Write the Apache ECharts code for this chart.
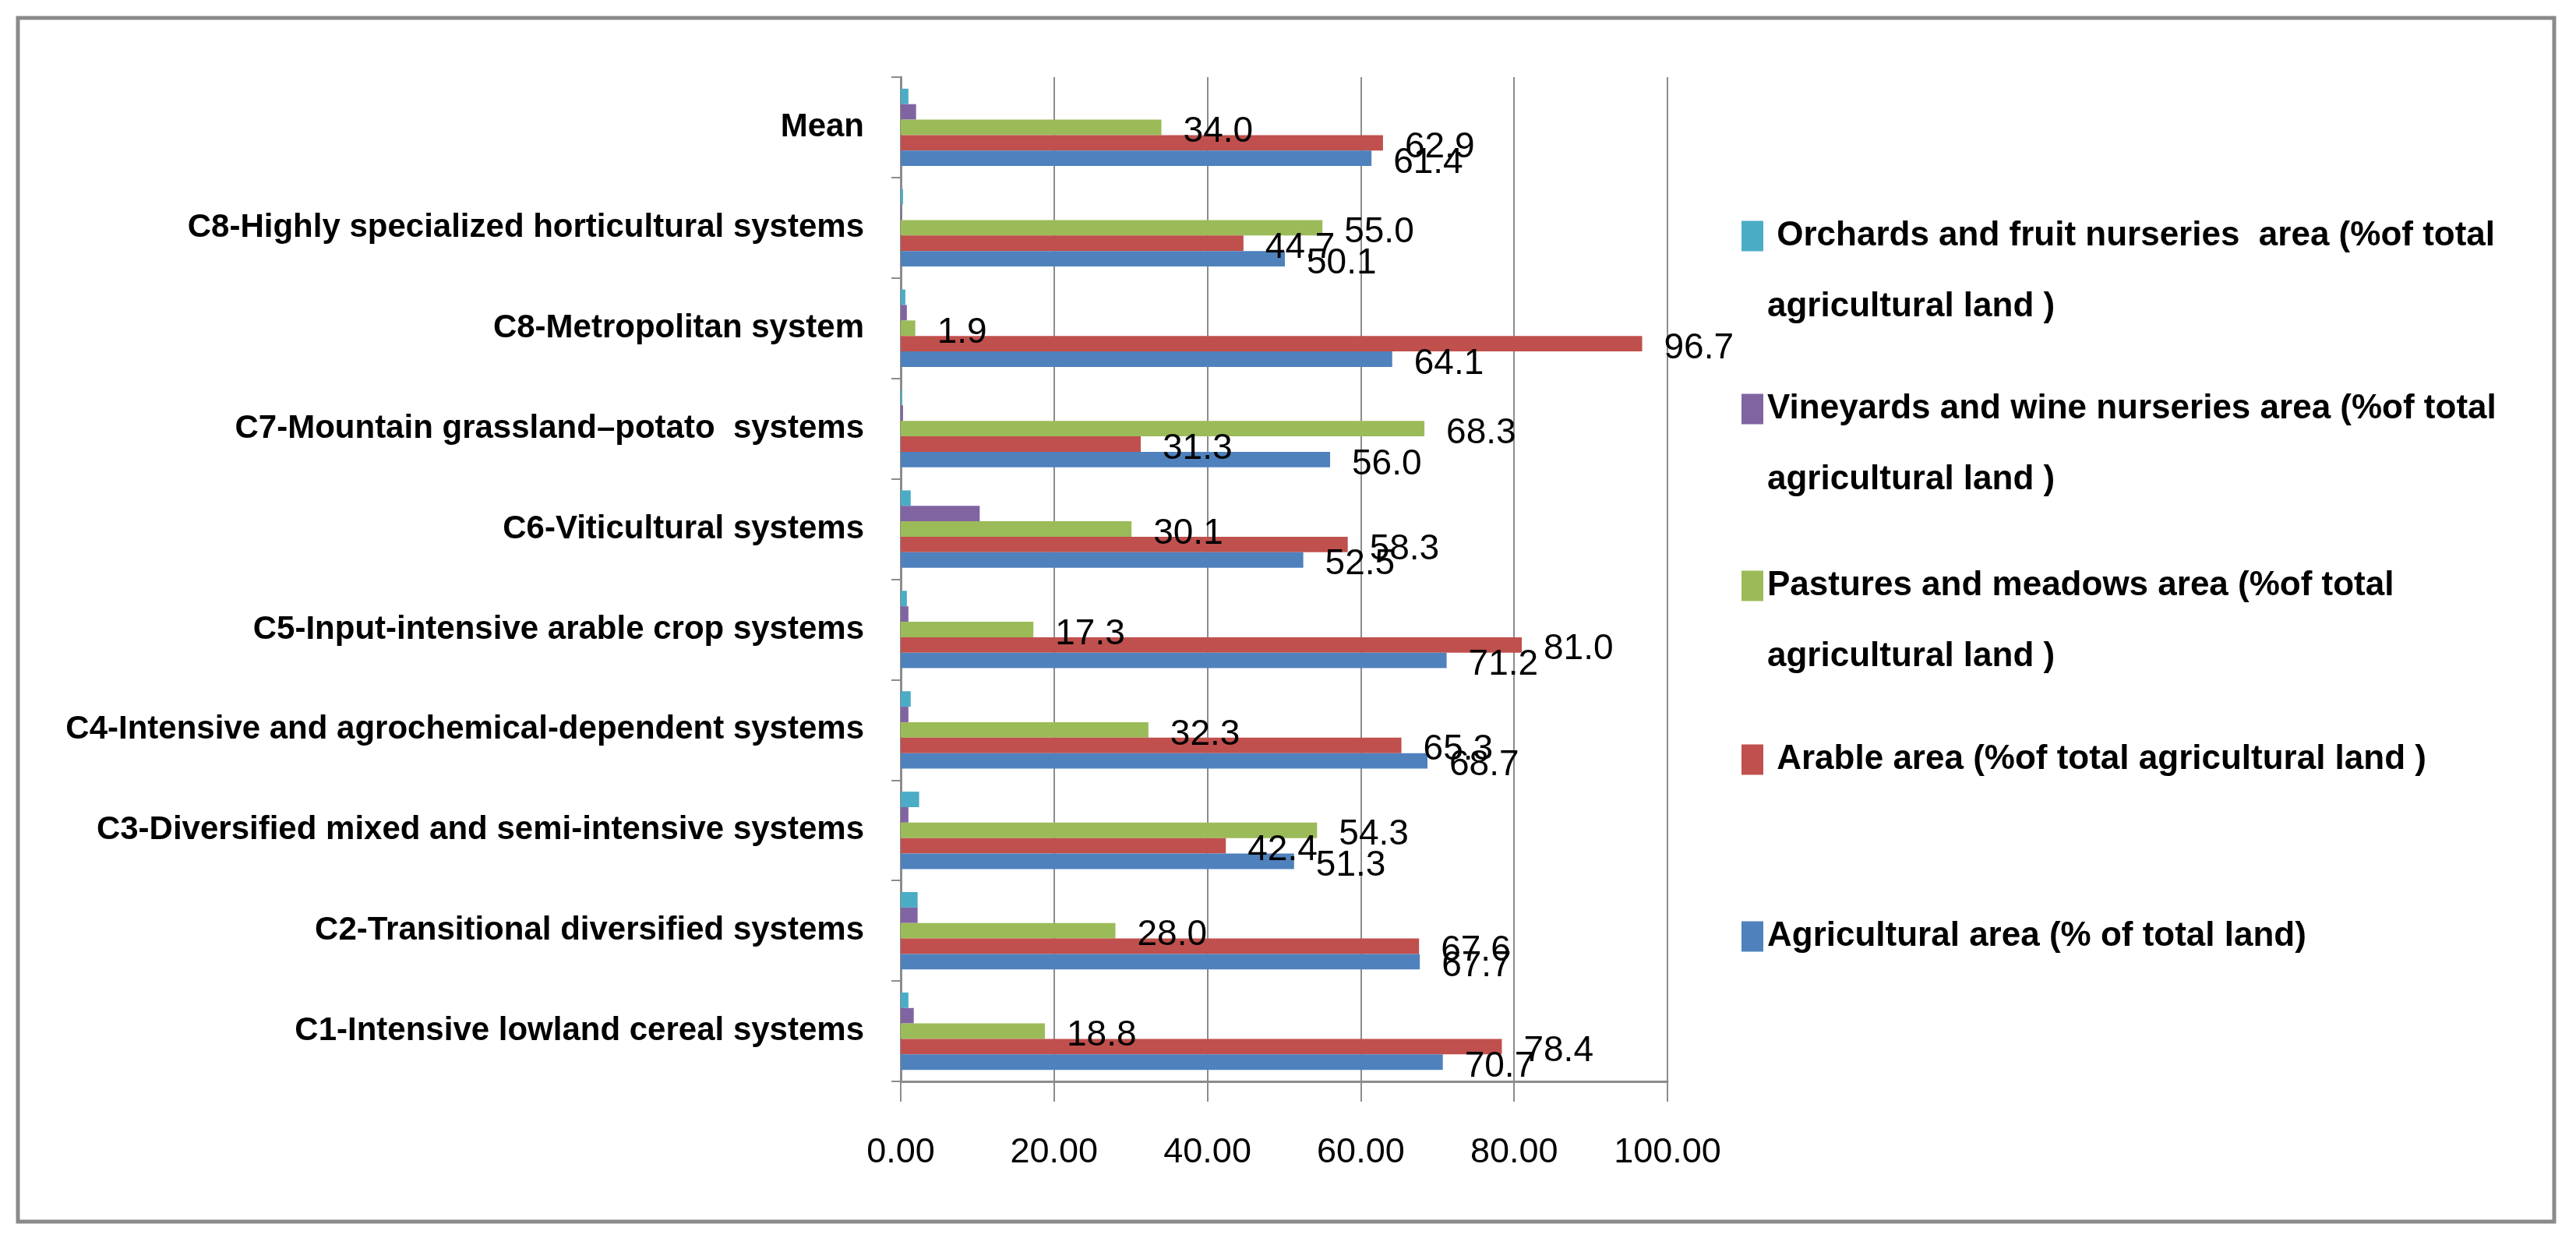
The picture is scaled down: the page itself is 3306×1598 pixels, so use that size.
<!DOCTYPE html>
<html>
<head>
<meta charset="utf-8">
<script src="https://cdn.jsdelivr.net/npm/echarts@6/dist/echarts.min.js"></script>
<style>
  html, body { margin: 0; padding: 0; background: #fff; }
  #chart { width: 3306px; height: 1598px; }
</style>
</head>
<body>
<div id="chart"></div>
<script>
// categories, bottom to top (the way the y axis counts them)
const categories = [
  'C1-Intensive lowland cereal systems',
  'C2-Transitional diversified systems',
  'C3-Diversified mixed and semi-intensive systems',
  'C4-Intensive and agrochemical-dependent systems',
  'C5-Input-intensive arable crop systems',
  'C6-Viticultural systems',
  'C7-Mountain grassland\u2013potato  systems',
  'C8-Metropolitan system',
  'C8-Highly specialized horticultural systems',
  'Mean'
];

const agricultural = [70.7, 67.7, 51.3, 68.7, 71.2, 52.5, 56.0, 64.1, 50.1, 61.4];
const arable = [78.4, 67.6, 42.4, 65.3, 81.0, 58.3, 31.3, 96.7, 44.7, 62.9];
const pastures = [18.8, 28.0, 54.3, 32.3, 17.3, 30.1, 68.3, 1.9, 55.0, 34.0];
const vineyards = [1.7, 2.2, 1.0, 1.0, 1.0, 10.3, 0.3, 0.8, 0.1, 2.0];
const orchards = [1.0, 2.2, 2.4, 1.3, 0.8, 1.3, 0.2, 0.6, 0.3, 1.0];

// top bar in each group first (echarts puts series 0 at the top)
const seriesNames = [
  ' Orchards and fruit nurseries  area (%of total agricultural land )',
  'Vineyards and wine nurseries area (%of total agricultural land )',
  'Pastures and meadows area (%of total agricultural land )',
  ' Arable area (%of total agricultural land )',
  'Agricultural area (% of total land)'
];
// how the legend text wraps in the original
const legendText = [
  ' Orchards and fruit nurseries  area (%of total\nagricultural land )',
  'Vineyards and wine nurseries area (%of total\nagricultural land )',
  'Pastures and meadows area (%of total\nagricultural land )',
  ' Arable area (%of total agricultural land )',
  'Agricultural area (% of total land)'
];
const seriesColors = ['#4BACC6', '#8064A2', '#9BBB59', '#C0504D', '#4F81BD'];
const showLabels = [false, false, true, true, true];

const FONT = "'Liberation Sans', Arial, sans-serif";
const AXIS_GRAY = '#8c8c8c';

var myChart = echarts.init(document.getElementById('chart'));

// legend rows: centre of each marker, same order as seriesNames
const legendCentres = [303, 525, 752, 975, 1202];
const LEGEND_LINE = 91;

const legends = seriesNames.map((name, i) => {
  // a blank first line keeps the first text line level with the marker
  let text = legendText[i].indexOf('\n') > -1 ? '\n' + legendText[i] : legendText[i];
  let nLines = text.split('\n').length;
  return {
    data: [name],
    left: 2235,
    top: legendCentres[i] - (nLines * LEGEND_LINE) / 2,
    orient: 'vertical',
    padding: 0,
    icon: 'rect',
    itemWidth: 28,
    itemHeight: 39,
    selectedMode: false,
    formatter: () => text,
    textStyle: {
      fontFamily: FONT,
      fontSize: 44,
      fontWeight: 'bold',
      lineHeight: LEGEND_LINE,
      color: '#000'
    }
  };
});

const allData = [orchards, vineyards, pastures, arable, agricultural];

const series = allData.map((values, i) => ({
  name: seriesNames[i],
  type: 'bar',
  data: values,
  barGap: '0%',
  barCategoryGap: '23%',
  itemStyle: { color: seriesColors[i] },
  label: {
    show: showLabels[i],
    position: 'right',
    distance: 28,
    offset: [0, 6],
    fontFamily: FONT,
    fontSize: 46,
    color: '#000',
    formatter: (p) => p.value.toFixed(1)
  }
}));

var option = {
  backgroundColor: '#fff',
  animation: false,
  grid: {
    left: 1156,
    right: 1166,
    top: 99,
    bottom: 210,
    containLabel: false,
    outerBoundsMode: 'none'
  },
  legend: legends,
  xAxis: {
    type: 'value',
    min: 0,
    max: 100,
    interval: 20,
    axisLine: { show: true, lineStyle: { color: AXIS_GRAY, width: 3 } },
    axisTick: { show: true, length: 26, lineStyle: { color: AXIS_GRAY, width: 2 } },
    splitLine: { show: true, lineStyle: { color: AXIS_GRAY, width: 2 } },
    axisLabel: {
      margin: 69,
      fontFamily: FONT,
      fontSize: 45,
      color: '#000',
      formatter: (v) => v.toFixed(2)
    }
  },
  yAxis: {
    type: 'category',
    data: categories,
    axisLine: { show: true, lineStyle: { color: AXIS_GRAY, width: 3 } },
    axisTick: { show: true, length: 12, lineStyle: { color: AXIS_GRAY, width: 2 } },
    splitLine: { show: false },
    axisLabel: {
      interval: 0,
      margin: 47,
      fontFamily: FONT,
      fontSize: 42,
      fontWeight: 'bold',
      color: '#000'
    }
  },
  graphic: [
    {
      type: 'rect',
      shape: { x: 23, y: 23, width: 3255, height: 1545 },
      style: { fill: null, stroke: '#8a8a8a', lineWidth: 5 },
      silent: true
    }
  ],
  series: series
};

myChart.setOption(option);
</script>
</body>
</html>
